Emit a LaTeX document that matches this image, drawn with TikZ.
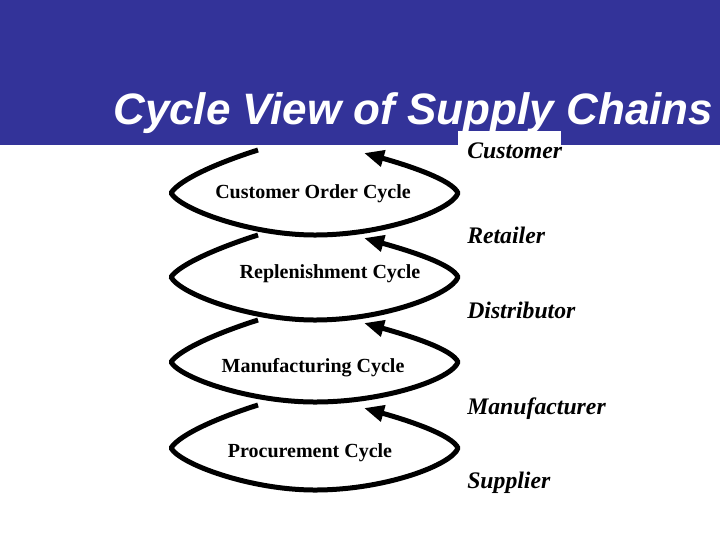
\documentclass[tikz,border=0pt]{standalone}
\usepackage{fontspec}
\setmainfont{Liberation Serif}
\newfontfamily\titlefont{Liberation Sans}
\usetikzlibrary{arrows.meta}

\definecolor{bannerblue}{RGB}{51,51,153}

\tikzset{
  cycleline/.style={line width=3.75pt, line join=round, -{Triangle[length=15pt,width=12pt]}},
  stagelabel/.style={anchor=base west, inner sep=0pt, font=\fontsize{17.8}{20}\selectfont\bfseries\itshape},
  cyclelabel/.style={anchor=base, inner sep=0pt, font=\fontsize{15}{17}\selectfont\bfseries}
}

\begin{document}
\begin{tikzpicture}[x=0.75pt,y=0.75pt,yscale=-1,xscale=1]
\useasboundingbox (0,0) rectangle (720,540);

%Shape: Rectangle [banner]
\fill [bannerblue] (0,0) rectangle (720,145);
%Shape: Rectangle [white patch behind Customer]
\fill [white] (458,131) rectangle (561,145);
%Title
\node [anchor=base west, inner sep=0pt, text=white, font=\titlefont\fontsize{33}{38}\selectfont\bfseries\itshape] (title) at (113,124) {Cycle View of Supply Chains};

%Curve: Customer Order Cycle
\draw [cycleline] (258,150) .. controls (220,162) and (180,179) .. (171,193) .. controls (180,209) and (250,235) .. (315,235) .. controls (385,235) and (452,210) .. (458,193) .. controls (452,180) and (410,166) .. (364,153) ;
%Curve: Replenishment Cycle
\draw [cycleline] (258,235) .. controls (220,247) and (180,264) .. (171,277) .. controls (180,294) and (250,320) .. (315,320) .. controls (385,320) and (452,294) .. (458,277) .. controls (452,264) and (410,251) .. (364,238) ;
%Curve: Manufacturing Cycle
\draw [cycleline] (258,320) .. controls (220,332) and (180,349) .. (171,362) .. controls (180,378) and (250,402) .. (315,402) .. controls (385,402) and (452,379) .. (458,362) .. controls (452,349) and (410,336) .. (364,323) ;
%Curve: Procurement Cycle
\draw [cycleline] (258,405) .. controls (220,417) and (180,434) .. (171,448) .. controls (180,464) and (250,490) .. (315,490) .. controls (385,490) and (452,465) .. (458,448) .. controls (452,435) and (410,421) .. (364,408) ;

%Cycle labels
\node [cyclelabel] (ordercycle) at (313,198) {Customer Order Cycle};
\node [cyclelabel] (replcycle) at (330,278) {Replenishment Cycle};
\node [cyclelabel] (mfgcycle) at (313,372) {Manufacturing Cycle};
\node [cyclelabel] (proccycle) at (310,457) {Procurement Cycle};

%Stage labels
\node [stagelabel] (customer) at (467,158) {Customer};
\node [stagelabel] (retailer) at (467,243) {Retailer};
\node [stagelabel] (distributor) at (467,318) {Distributor};
\node [stagelabel] (manufacturer) at (467,414) {Manufacturer};
\node [stagelabel] (supplier) at (467,488) {Supplier};

\end{tikzpicture}
\end{document}
